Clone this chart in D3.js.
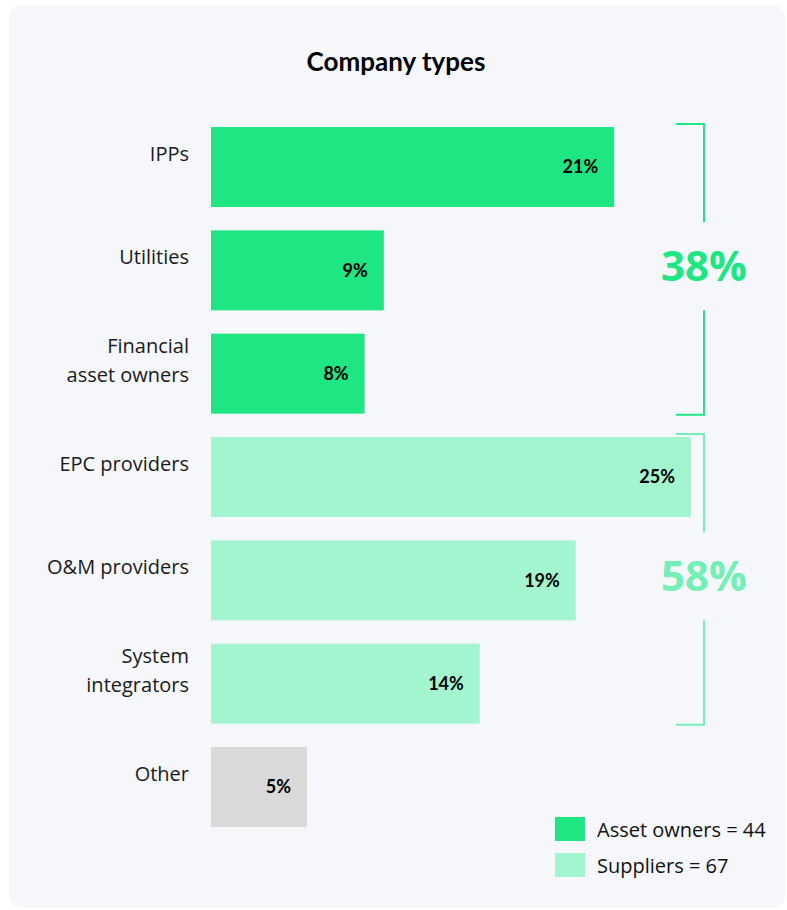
<!DOCTYPE html>
<html>
<head>
<meta charset="utf-8">
<script src="https://cdn.jsdelivr.net/npm/d3@7"></script>
<style>
  body { margin: 0; background: #ffffff; }
  text { font-family: Lato, "Noto Sans", sans-serif; }
  .sans { font-family: "Open Sans", "Noto Sans", sans-serif; }
</style>
</head>
<body>
<svg id="bar-chart"></svg>
<script>
// Chart data
const categories = ["IPPs", "Utilities", "Financial asset owners", "EPC providers", "O&M providers", "System integrators", "Other"];
const labelLines = [["IPPs"], ["Utilities"], ["Financial", "asset owners"], ["EPC providers"], ["O&M providers"], ["System", "integrators"], ["Other"]];
const values = [21, 9, 8, 25, 19, 14, 5];
const groups = ["owner", "owner", "owner", "supplier", "supplier", "supplier", "other"];

// Bracket totals for each group
const bracketLabels = ["38%", "58%"];
const bracketGroups = ["owner", "supplier"];

// Legend entries
const legendLabels = ["Asset owners = 44", "Suppliers = 67"];
const legendGroups = ["owner", "supplier"];

const colors = { owner: "#1de682", supplier: "#a3f5cf", other: "#d9d9d9" };
const bracketColors = { owner: "#1de682", supplier: "#74efb6" };

var dims = {
    width: 787,
    height: 910,
    margins: { top: 127, right: 96, bottom: 83, left: 211 }
};

const svg = d3.select("#bar-chart")
    .attr("width", dims.width)
    .attr("height", dims.height);

// Card background
svg.append("rect")
    .attr("x", 9)
    .attr("y", 5)
    .attr("width", 776)
    .attr("height", 903)
    .attr("rx", 13)
    .attr("fill", "#f5f7fb");

// Title
svg.append("text")
    .attr("x", 396)
    .attr("y", 71)
    .attr("text-anchor", "middle")
    .style("font-size", "26px")
    .style("font-weight", "bold")
    .attr("fill", "#000")
    .text("Company types");

// Scales
const xScale = d3.scaleLinear()
    .domain([0, 25])
    .range([dims.margins.left, dims.width - dims.margins.right]);

const yScale = d3.scaleBand()
    .domain(categories)
    .range([dims.margins.top, dims.height - dims.margins.bottom])
    .paddingInner(0.226)
    .paddingOuter(0);

const bw = yScale.bandwidth();

// Bars
svg.selectAll("rect.bar")
    .data(categories)
    .enter()
    .append("rect")
    .attr("class", "bar")
    .attr("x", xScale(0))
    .attr("y", d => yScale(d))
    .attr("width", (d, i) => xScale(values[i]) - xScale(0))
    .attr("height", bw)
    .attr("fill", (d, i) => colors[groups[i]]);

// Value labels inside bars
svg.selectAll("text.value")
    .data(categories)
    .enter()
    .append("text")
    .attr("class", "value")
    .attr("x", (d, i) => xScale(values[i]) - 16)
    .attr("y", d => yScale(d) + bw / 2)
    .attr("dy", "0.36em")
    .attr("text-anchor", "end")
    .style("font-size", "18px")
    .style("font-weight", "bold")
    .attr("fill", "#000")
    .text((d, i) => values[i] + "%");

// Category labels (multi-line)
const lineH = 29;
const catLabels = svg.selectAll("text.cat")
    .data(categories)
    .enter()
    .append("text")
    .attr("class", "cat sans")
    .attr("text-anchor", "end")
    .style("font-size", "20px")
    .attr("fill", "#1a1a1a");

catLabels.each(function(d, i) {
    const lines = labelLines[i];
    const baseY = yScale(d) + bw / 2 - 5 - (lines.length - 1) * lineH / 2 - 1;
    lines.forEach((ln, j) => {
        d3.select(this).append("tspan")
            .attr("x", 189)
            .attr("y", baseY + j * lineH)
            .text(ln);
    });
});

// Group brackets with totals
bracketGroups.forEach((g, k) => {
    const members = categories.filter((c, i) => groups[i] === g);
    const top = yScale(members[0]) - 3;
    const bottom = yScale(members[members.length - 1]) + bw + 1;
    const mid = (top + bottom) / 2 - 3;
    const bx = 704, hx = 676, gap = 44;
    const col = bracketColors[g];

    svg.append("path")
        .attr("d", `M${hx},${top}H${bx}V${mid - gap}M${bx},${mid + gap}V${bottom}H${hx}`)
        .attr("fill", "none")
        .attr("stroke", col)
        .attr("stroke-width", 2);

    svg.append("text")
        .attr("class", "sans")
        .attr("x", bx)
        .attr("y", mid + 15)
        .attr("text-anchor", "middle")
        .style("font-size", "42px")
        .style("font-weight", "bold")
        .attr("fill", col)
        .text(bracketLabels[k]);
});

// Legend
legendLabels.forEach((lab, i) => {
    const ly = 817 + i * 36;
    svg.append("rect")
        .attr("x", 555)
        .attr("y", ly)
        .attr("width", 30)
        .attr("height", 24)
        .attr("fill", colors[legendGroups[i]]);
    svg.append("text")
        .attr("class", "sans")
        .attr("x", 597)
        .attr("y", ly + 20)
        .style("font-size", "20px")
        .attr("fill", "#111")
        .text(lab);
});
</script>
</body>
</html>
